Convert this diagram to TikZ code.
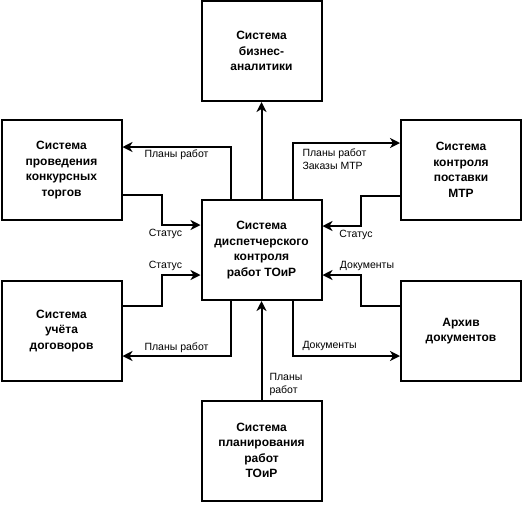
\documentclass[tikz,border=0pt]{standalone}
\usepackage{fontspec}
\setmainfont{Liberation Sans}
\usetikzlibrary{arrows.meta}
\tikzset{
  sys/.style={draw, line width=2pt, minimum width=120pt, minimum height=100pt,
    inner sep=0pt, align=center, font=\bfseries\fontsize{12}{15.5}\selectfont},
  flow/.style={line width=2pt, -{Stealth[length=10pt,width=10pt,inset=3pt]}},
  lbl/.style={inner sep=0pt, align=left, font=\fontsize{10.5}{13}\selectfont}
}
\begin{document}
\begin{tikzpicture}[x=1pt,y=-1pt]
\useasboundingbox (0,0) rectangle (524,504);
\node[sys] (bi) at (261.5,51) {Система\\бизнес-\\аналитики};
\node[sys] (konk) at (61.5,170) {Система\\проведения\\конкурсных\\торгов};
\node[sys] (disp) at (261.5,250) {Система\\диспетчерского\\контроля\\работ ТОиР};
\node[sys] (mtr) at (461,170) {Система\\контроля\\поставки\\МТР};
\node[sys] (dog) at (61.5,331) {Система\\учёта\\договоров};
\node[sys] (arh) at (461,331) {Архив\\документов};
\node[sys] (plan) at (261.5,450.5) {Система\\планирования\\работ\\ТОиР};

\draw[flow] (disp.north) -- (bi.south);
\draw[flow] ([xshift=-31pt]disp.north) |- ([yshift=23pt]konk.east)
  node[lbl, pos=0.75, below=2pt] (l-konk-plan) {Планы работ};
\draw[flow] ([yshift=-25pt]konk.east) -- ++(39,0) |- ([yshift=25pt]disp.west)
  node[lbl, pos=0.5, below=3pt, xshift=4pt] (l-konk-stat) {Статус};
\draw[flow] ([xshift=31pt]disp.north) |- ([yshift=27pt]mtr.west)
  node[lbl, pos=0.5, anchor=north west, xshift=9pt, yshift=-5pt] (l-mtr-plan) {Планы работ\\Заказы МТР};
\draw[flow] ([yshift=-26pt]mtr.west) -- ++(-39,0) |- ([yshift=24pt]disp.east)
  node[lbl, pos=0.5, below=3pt, xshift=-5pt] (l-mtr-stat) {Статус};
\draw[flow] ([yshift=25pt]dog.east) -- ++(39,0) |- ([yshift=-25pt]disp.west)
  node[lbl, pos=0.5, above=3pt, xshift=4pt] (l-dog-stat) {Статус};
\draw[flow] ([xshift=-31pt]disp.south) |- ([yshift=-25pt]dog.east)
  node[lbl, pos=0.75, above=2pt] (l-dog-plan) {Планы работ};
\draw[flow] ([yshift=25pt]arh.west) -- ++(-39,0) |- ([yshift=-25pt]disp.east)
  node[lbl, pos=0.5, above=3pt, xshift=6pt] (l-arh-in) {Документы};
\draw[flow] ([xshift=31pt]disp.south) |- ([yshift=-25pt]arh.west)
  node[lbl, pos=0.5, anchor=south west, xshift=9pt, yshift=4pt] (l-arh-out) {Документы};
\draw[flow] (plan.north) node[lbl, anchor=south west, xshift=7pt, yshift=3pt] (l-plan) {Планы\\работ}
  -- (disp.south);
\end{tikzpicture}
\end{document}
